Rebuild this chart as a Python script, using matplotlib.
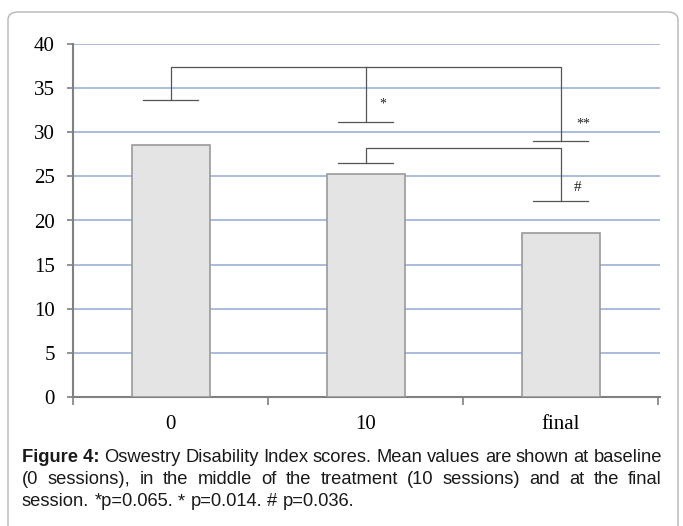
import numpy as np
import matplotlib.pyplot as plt
from matplotlib.patches import FancyBboxPatch

# data
categories = ['0', '10', 'final']
means = [28.5, 25.3, 18.6]
y_ticks = [0, 5, 10, 15, 20, 25, 30, 35, 40]

# significance brackets: (left idx, right idx, top level, left cap, right cap)
brackets = [(0, 2, 37.4, 33.6, 29.0), (1, 2, 28.2, 26.5, 22.2)]
mid_cap = (1, 31.2)     # middle drop of the first bracket
marks = ['*', '**', '#']
mark_x = [1.07, 2.08, 2.07]
mark_y = [33.2, 30.9, 23.7]

caption = [
    ("Figure 4:", "Oswestry Disability Index scores. Mean values are shown at baseline"),
    ("", "(0 sessions), in the middle of the treatment (10 sessions) and at the final"),
    ("", "session. *p=0.065. * p=0.014. # p=0.036."),
]

W, H = 683, 526
fig = plt.figure(figsize=(W / 100, H / 100), dpi=100)

# outer rounded frame
frame = FancyBboxPatch((8 / W, -0.1), (670 / W), 1.1 - 12 / H,
                       boxstyle="round,pad=0,rounding_size=0.015",
                       transform=fig.transFigure, fill=False,
                       edgecolor='#b5b5b5', linewidth=1.0)
fig.patches.append(frame)

ax = fig.add_axes([73 / W, (H - 397) / H, 587 / W, 353 / H])
x = np.arange(len(categories))
ax.bar(x, means, width=0.4, color='#e4e4e4', edgecolor='#9a9a9a',
       linewidth=1.2, zorder=3)

ax.set_xlim(-0.5, 2.51)
ax.set_ylim(0, 40)
ax.set_yticks(y_ticks)
ax.yaxis.grid(True, color='#a3b7dc', linewidth=1.3, zorder=0)
ax.set_axisbelow(True)

for s in ['right', 'top']:
    ax.spines[s].set_visible(False)
for s in ['left', 'bottom']:
    ax.spines[s].set_color('#808080')
    ax.spines[s].set_linewidth(1.5)

serif = 'Liberation Serif'
ax.set_xticks(x)
ax.set_xticklabels(categories, family=serif, fontsize=15)
ax.set_xticks([-0.5, 0.5, 1.5, 2.5], minor=True)
ax.tick_params(axis='x', which='major', length=0, pad=13)
ax.tick_params(axis='x', which='minor', length=6, color='#808080', width=1.2)
ax.set_yticklabels([str(v) for v in y_ticks], family=serif, fontsize=15)
ax.tick_params(axis='y', length=4, color='#808080', width=1.2, pad=9)

lc = '#555555'
cap = 0.14
for li, ri, top, lcap, rcap in brackets:
    ax.plot([li, li, ri, ri], [lcap, top, top, rcap], color=lc, lw=0.9, zorder=4)
    ax.plot([li - cap, li + cap], [lcap, lcap], color=lc, lw=0.9, zorder=4)
    ax.plot([ri - cap, ri + cap], [rcap, rcap], color=lc, lw=0.9, zorder=4)
mi, my = mid_cap
ax.plot([mi, mi], [my, brackets[0][2]], color=lc, lw=0.9, zorder=4)
ax.plot([mi - cap, mi + cap], [my, my], color=lc, lw=0.9, zorder=4)

for m, mx, myy in zip(marks, mark_x, mark_y):
    ax.text(mx, myy, m, family=serif, fontsize=10 if m != '#' else 11,
            ha='left', va='center', color='#222222', zorder=5)

# justified caption
fig.canvas.draw()
r = fig.canvas.get_renderer()
sans = 'Liberation Sans'
fs = 13.2
x0, x1 = 22, 662
line_y = [458, 480, 502]


def width(s, weight='normal'):
    t = fig.text(0, 0, s, family=sans, fontsize=fs, weight=weight)
    w = t.get_window_extent(r).width
    t.remove()
    return w


for i, (bold, rest) in enumerate(caption):
    words = []
    if bold:
        words.append((bold, 'bold'))
    words += [(w, 'normal') for w in rest.split()]
    ws = [width(w, wt) for w, wt in words]
    y = 1 - line_y[i] / H
    if i < len(caption) - 1:
        gap = (x1 - x0 - sum(ws)) / (len(words) - 1)
    else:
        gap = width('a b') - width('ab')
    cx = x0
    for (w, wt), ww in zip(words, ws):
        fig.text(cx / W, y, w, family=sans, fontsize=fs, weight=wt,
                 va='center', ha='left', color='#1a1a1a')
        cx += ww + gap

fig.savefig('out.png', dpi=100)
